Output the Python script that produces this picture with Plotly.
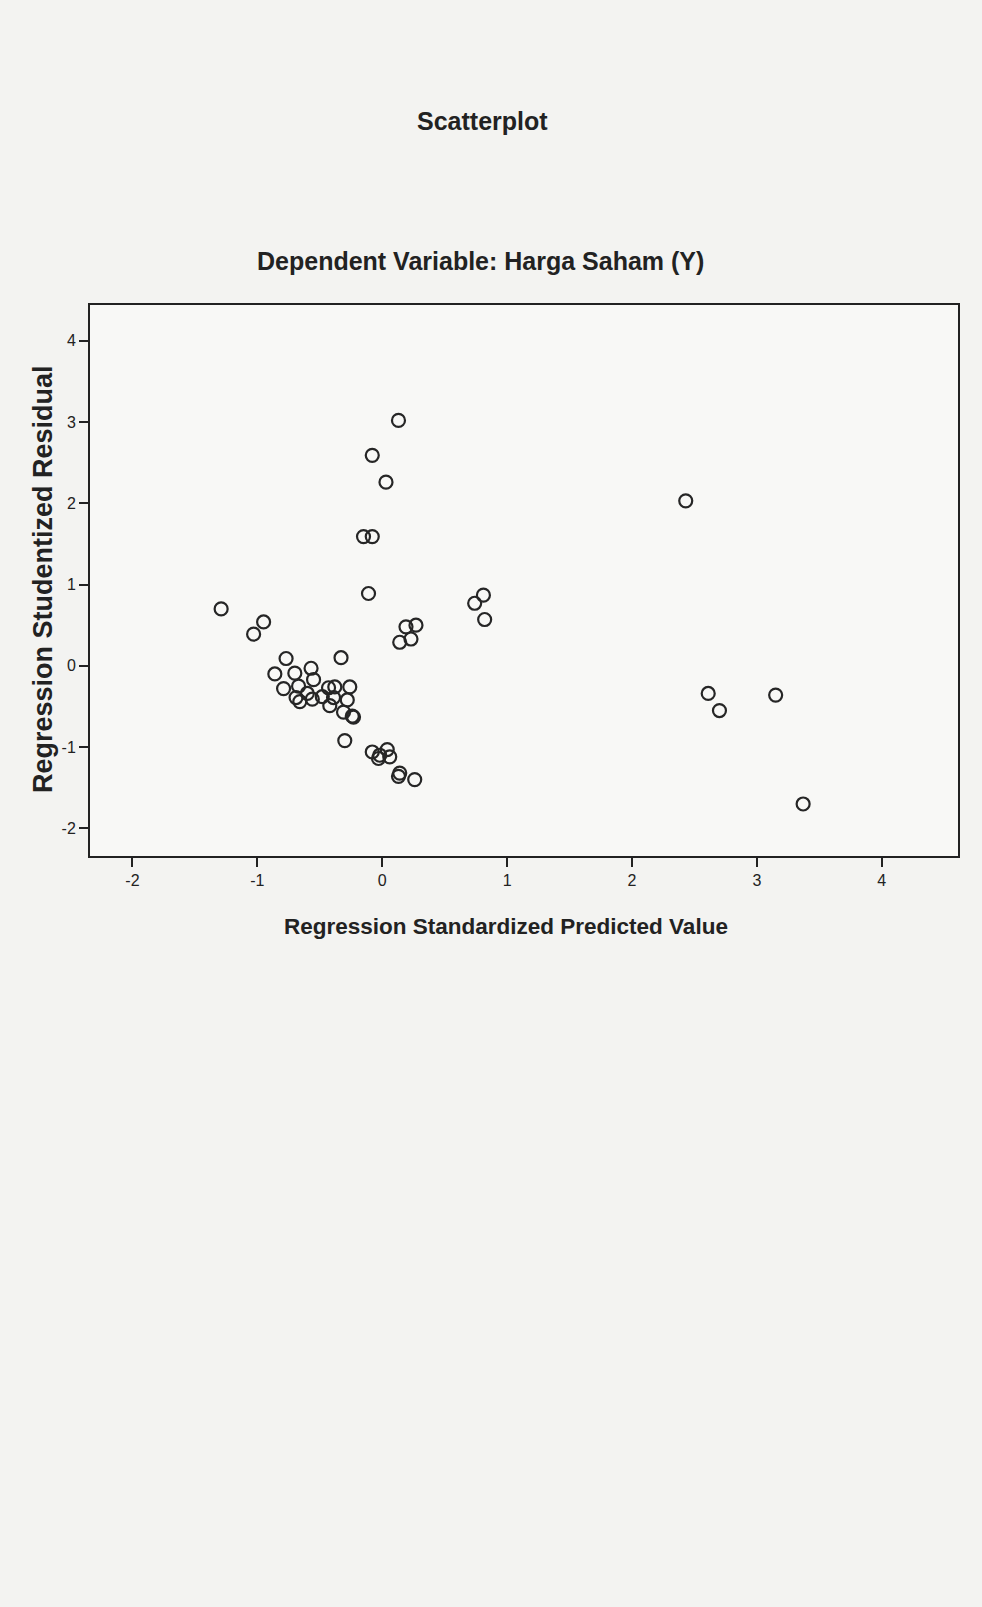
import plotly.graph_objects as go

# Regression Standardized Predicted Value (x) and Studentized Residual (y)
pred_values = [
    -1.29, -0.95, -1.03, -0.11, 0.19, 0.27, 0.14, 0.23, 0.74, -0.77,
    -0.33, -0.86, -0.70, -0.57, -0.55, -0.79, -0.67, -0.69, -0.66, -0.56,
    -0.60, -0.48, -0.43, -0.38, -0.39, -0.42, -0.26, -0.28, -0.31, -0.24,
    -0.23, -0.30, -0.08, -0.02, 0.04, 0.06, -0.03, 0.14, 0.13, 0.26,
    0.13, -0.08, 0.03, -0.15, -0.08, 0.81, 0.82, 2.43, 2.61, 2.70,
    3.15, 3.37,
]
resid_values = [
    0.70, 0.54, 0.39, 0.89, 0.48, 0.50, 0.29, 0.33, 0.77, 0.09,
    0.10, -0.10, -0.09, -0.03, -0.17, -0.28, -0.25, -0.39, -0.44, -0.41,
    -0.34, -0.38, -0.27, -0.26, -0.39, -0.49, -0.26, -0.42, -0.57, -0.62,
    -0.63, -0.92, -1.06, -1.10, -1.03, -1.12, -1.14, -1.32, -1.36, -1.40,
    3.02, 2.59, 2.26, 1.59, 1.59, 0.87, 0.57, 2.03, -0.34, -0.55,
    -0.36, -1.70,
]
x_ticks = [-2, -1, 0, 1, 2, 3, 4]
x_tick_labels = ["-2", "-1", "0", "1", "2", "3", "4"]
y_ticks = [-2, -1, 0, 1, 2, 3, 4]
y_tick_labels = ["-2", "-1", "0", "1", "2", "3", "4"]

title_text = "Scatterplot"
subtitle_text = "Dependent Variable: Harga Saham (Y)"
x_title = "Regression Standardized Predicted Value"
y_title = "Regression Studentized Residual"

font_fam = "Liberation Sans, Arial, sans-serif"

W, H = 982, 1607
ML, MR, MT, MB = 90, 24, 305, 751
pw = W - ML - MR
ph = H - MT - MB


def px_to_paper(x, y):
    return (x - ML) / pw, (H - y - MB) / ph


fig = go.Figure()
fig.add_trace(go.Scatter(
    x=pred_values, y=resid_values, mode="markers",
    marker=dict(symbol="circle-open", size=13, color="#262626",
                line=dict(width=2.2, color="#262626")),
    showlegend=False, hoverinfo="x+y",
))

annots = []
for text, (x, y), size, angle in [
    (title_text, (482, 121), 25, 0),
    (subtitle_text, (480, 261), 25, 0),
    (x_title, (506, 926), 22.5, 0),
    (y_title, (43, 579), 27, -90),
]:
    ax, ay = px_to_paper(x, y)
    annots.append(dict(text="<b>" + text + "</b>", x=ax, y=ay, xref="paper", yref="paper",
                       xanchor="center", yanchor="middle", showarrow=False,
                       textangle=angle,
                       font=dict(family=font_fam, size=size, color="#222")))

axis_common = dict(ticks="outside", ticklen=9, tickwidth=1.5, tickcolor="#222",
                   showgrid=False, zeroline=False, showline=True, linecolor="#222",
                   linewidth=2, mirror=True,
                   tickfont=dict(family=font_fam, size=16, color="#222"))

fig.update_layout(
    width=W, height=H,
    margin=dict(l=ML, r=MR, t=MT, b=MB),
    paper_bgcolor="#f3f3f1",
    plot_bgcolor="#f8f8f6",
    xaxis=dict(range=[-2.34, 4.61], tickvals=x_ticks, ticktext=x_tick_labels, **axis_common),
    yaxis=dict(range=[-2.34, 4.44], tickvals=y_ticks, ticktext=y_tick_labels, **axis_common),
    annotations=annots,
)

fig.write_html("out.html", config={"displayModeBar": False},
               post_script="document.body.style.margin='0';document.body.style.background='#f3f3f1';")
